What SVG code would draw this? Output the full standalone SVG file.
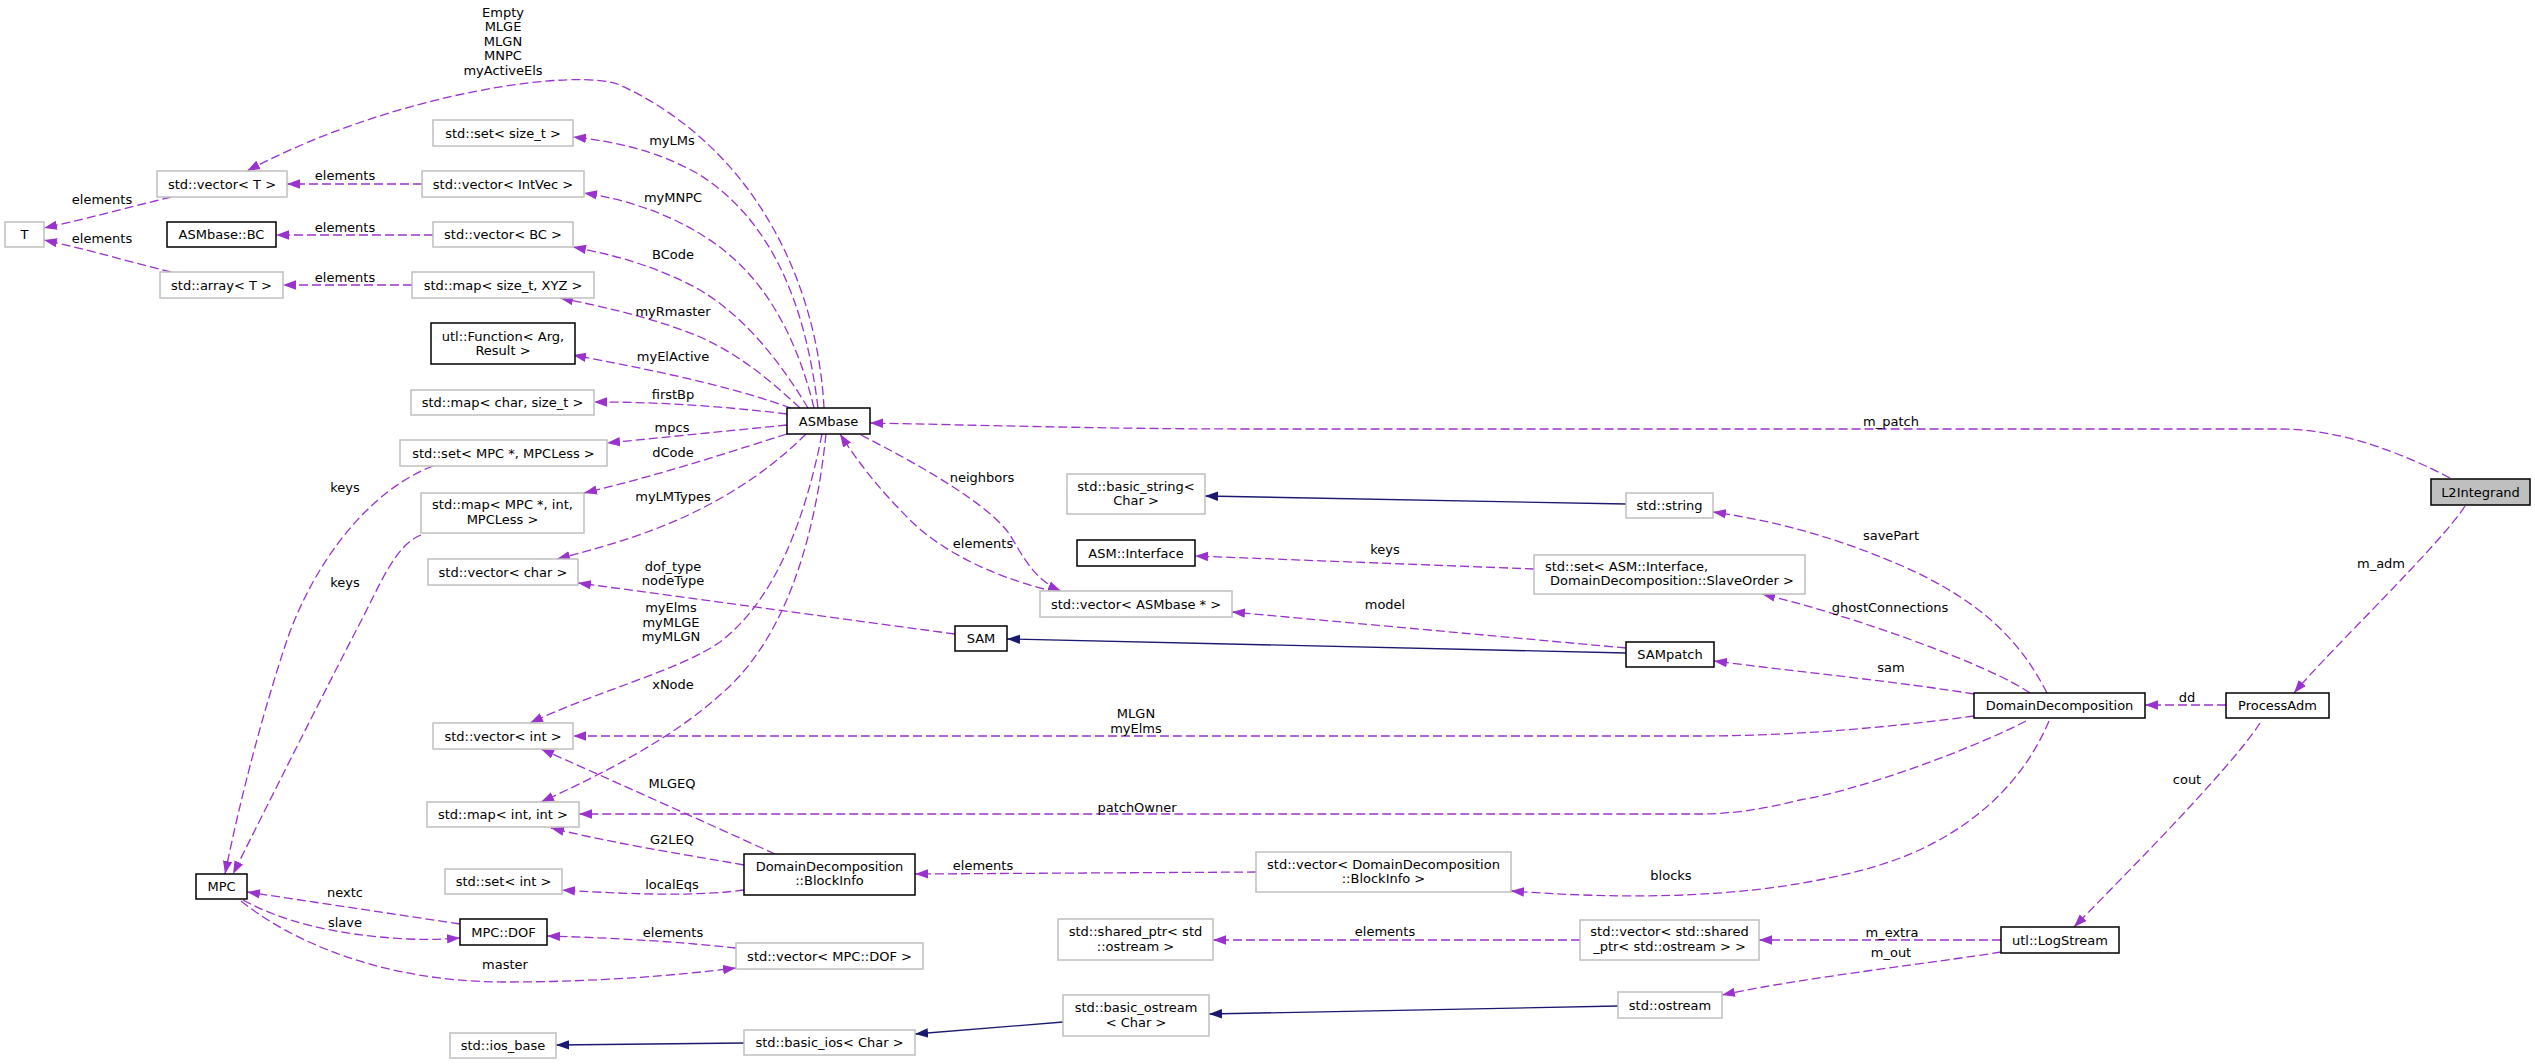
<svg xmlns="http://www.w3.org/2000/svg" width="2535" height="1064" viewBox="0 0 2535 1064">
<style>
text{font-family:"DejaVu Sans","Liberation Sans",sans-serif;font-size:13px;fill:#000}
.n rect{fill:#fff;stroke:#bfbfbf;stroke-width:1.5}
.n.d rect{stroke:#000}
.n.f rect{fill:#bfbfbf;stroke:#000}
.n text{text-anchor:middle}
.c path{fill:none;stroke:#9a32cd;stroke-width:1.3;stroke-dasharray:9,4;marker-end:url(#ap)}
.c path.i{stroke:#191970;stroke-dasharray:none;marker-end:url(#ab)}
.c text{text-anchor:middle}
</style>
<defs>
<marker id="ap" markerWidth="14" markerHeight="10" refX="13" refY="5" orient="auto" markerUnits="userSpaceOnUse"><path d="M0,0.3 L13,5 L0,9.7 Z" fill="#9a32cd"/></marker>
<marker id="ab" markerWidth="14" markerHeight="10" refX="13" refY="5" orient="auto" markerUnits="userSpaceOnUse"><path d="M0,0.3 L13,5 L0,9.7 Z" fill="#191970"/></marker>
</defs>
<rect x="0" y="0" width="2535" height="1064" fill="#fff"/>
<g id="connectors" class="c">
<path d="M2450,478 C2400,452 2340,429 2280,429 L1250,429 C1100,429 980,425 870,423"/>
<text x="1891" y="425.5">m_patch</text>
<path d="M2465,506 C2440,545 2330,650 2294,693"/>
<text x="2381" y="567.5">m_adm</text>
<path d="M2226,705 L2145,705"/>
<text x="2187" y="701.5">dd</text>
<path d="M2260,723 C2230,770 2110,890 2074,927"/>
<text x="2187" y="783.5">cout</text>
<path d="M2001,940 L1759,940"/>
<text x="1892" y="936.5">m_extra</text>
<path d="M2001,952 C1940,962 1800,978 1722,995"/>
<text x="1891" y="956.5">m_out</text>
<path d="M1580,940 L1213,940"/>
<text x="1385" y="935.5">elements</text>
<path class="i" d="M1618,1006 L1209,1014"/>
<path class="i" d="M1063,1022 L915,1034"/>
<path class="i" d="M744,1043 L556,1045"/>
<path d="M2047,693 C2020,640 1980,600 1900,565 C1830,535 1770,520 1713,512"/>
<text x="1891" y="539.5">savePart</text>
<path d="M2030,693 C1990,665 1850,615 1762,594"/>
<text x="1890" y="611.5">ghostConnections</text>
<path d="M1974,694 C1900,682 1800,672 1714,661"/>
<text x="1891" y="671.5">sam</text>
<path d="M1974,716 C1900,726 1800,736 1700,736 L573,736"/>
<text x="1136" y="717.5">MLGN</text>
<text x="1136" y="732.5">myElms</text>
<path d="M2026,721 C1970,750 1860,790 1800,800 C1760,810 1730,814 1700,814 L579,814"/>
<text x="1137" y="811.5">patchOwner</text>
<path d="M2049,721 C2020,790 1960,840 1880,865 C1780,895 1660,902 1511,891"/>
<text x="1671" y="879.5">blocks</text>
<path class="i" d="M1626,653 L1007,639"/>
<path d="M1626,648 L1232,612"/>
<text x="1385" y="608.5">model</text>
<path class="i" d="M1626,504 L1205,496"/>
<path d="M1534,569 L1195,556"/>
<text x="1385" y="553.5">keys</text>
<path d="M1044,589 C990,575 940,550 910,520 C880,490 860,465 840,434"/>
<text x="983" y="547.5">elements</text>
<path d="M861,435 C920,465 990,505 1010,535 C1025,560 1035,580 1061,591"/>
<text x="982" y="481.5">neighbors</text>
<path d="M955,634 L578,583"/>
<text x="673" y="570.5">dof_type</text>
<text x="673" y="584.5">nodeType</text>
<path d="M824,408 C818,290 760,150 620,85 C580,68 400,90 247,171"/>
<text x="503" y="16.5">Empty</text>
<text x="503" y="30.5">MLGE</text>
<text x="503" y="45.5">MLGN</text>
<text x="503" y="59.5">MNPC</text>
<text x="503" y="74.5">myActiveEls</text>
<path d="M818,408 C805,300 770,220 700,175 C660,152 620,142 573,137"/>
<text x="672" y="144.5">myLMs</text>
<path d="M814,408 C795,330 760,270 702,235 C670,215 630,200 584,193"/>
<text x="673" y="201.5">myMNPC</text>
<path d="M808,408 C785,370 750,320 700,290 C660,268 620,256 573,247"/>
<text x="673" y="258.5">BCode</text>
<path d="M800,408 C770,380 740,355 700,337 C660,320 610,308 560,298"/>
<text x="673" y="315.5">myRmaster</text>
<path d="M791,408 C740,390 680,375 573,355"/>
<text x="673" y="360.5">myElActive</text>
<path d="M787,414 C720,406 660,402 594,402"/>
<text x="673" y="398.5">firstBp</text>
<path d="M787,425 L607,443"/>
<text x="672" y="431.5">mpcs</text>
<path d="M787,434 C720,455 660,475 584,493"/>
<text x="673" y="456.5">dCode</text>
<path d="M806,434 C760,480 700,515 630,538 C600,548 580,553 557,559"/>
<text x="673" y="500.5">myLMTypes</text>
<path d="M822,434 C805,520 775,600 720,642 C680,670 600,690 530,723"/>
<text x="671" y="611.5">myElms</text>
<text x="671" y="626.5">myMLGE</text>
<text x="671" y="640.5">myMLGN</text>
<path d="M826,434 C815,540 785,640 720,695 C670,740 600,775 541,802"/>
<text x="673" y="688.5">xNode</text>
<path d="M433,466 C370,490 315,560 287,640 C262,715 240,800 225,874"/>
<text x="345" y="491.5">keys</text>
<path d="M421,535 C395,545 380,585 360,623 C315,710 270,800 233,874"/>
<text x="345" y="586.5">keys</text>
<path d="M171,197 C130,207 90,218 44,228"/>
<text x="102" y="203.5">elements</text>
<path d="M171,272 C130,262 90,250 44,240"/>
<text x="102" y="242.5">elements</text>
<path d="M422,184 L287,184"/>
<text x="345" y="179.5">elements</text>
<path d="M433,235 L276,235"/>
<text x="345" y="231.5">elements</text>
<path d="M412,285 L283,285"/>
<text x="345" y="281.5">elements</text>
<path d="M1256,872 L915,874"/>
<text x="983" y="869.5">elements</text>
<path d="M775,854 C700,820 600,775 541,749"/>
<text x="672" y="787.5">MLGEQ</text>
<path d="M744,865 C700,857 620,845 551,828"/>
<text x="672" y="843.5">G2LEQ</text>
<path d="M744,890 C700,896 640,895 562,890"/>
<text x="672" y="888.5">localEqs</text>
<path d="M460,924 L247,892"/>
<text x="345" y="896.5">nextc</text>
<path d="M243,900 C280,920 330,935 408,939 C430,940 445,939 460,938"/>
<text x="345" y="926.5">slave</text>
<path d="M241,901 C290,940 380,982 505,982 C600,982 680,975 736,968"/>
<text x="505" y="968.5">master</text>
<path d="M736,948 C680,942 620,938 547,936"/>
<text x="673" y="936.5">elements</text>
</g>
<g id="L2Integrand" class="n f"><rect x="2431" y="479" width="99" height="26"/><text x="2480.5" y="496.5">L2Integrand</text></g>
<g id="ASMbase" class="n d"><rect x="787" y="408" width="83" height="26"/><text x="828.5" y="425.5">ASMbase</text></g>
<g id="vectorT" class="n"><rect x="157" y="171" width="130" height="26"/><text x="222" y="188.5">std::vector&lt; T &gt;</text></g>
<g id="T" class="n"><rect x="5" y="222" width="39" height="25"/><text x="24.5" y="239">T</text></g>
<g id="arrayT" class="n"><rect x="160" y="272" width="123" height="26"/><text x="221.5" y="289.5">std::array&lt; T &gt;</text></g>
<g id="setSizeT" class="n"><rect x="433" y="120" width="140" height="26"/><text x="503" y="137.5">std::set&lt; size_t &gt;</text></g>
<g id="vectorIntVec" class="n"><rect x="422" y="171" width="162" height="26"/><text x="503" y="188.5">std::vector&lt; IntVec &gt;</text></g>
<g id="ASMbaseBC" class="n d"><rect x="167" y="222" width="109" height="25"/><text x="221.5" y="239">ASMbase::BC</text></g>
<g id="vectorBC" class="n"><rect x="433" y="222" width="140" height="25"/><text x="503" y="239">std::vector&lt; BC &gt;</text></g>
<g id="mapSizeXYZ" class="n"><rect x="412" y="272" width="182" height="26"/><text x="503" y="289.5">std::map&lt; size_t, XYZ &gt;</text></g>
<g id="utlFunction" class="n d"><rect x="431" y="323" width="144" height="41"/><text x="503" y="340.7">utl::Function&lt; Arg,</text><text x="503" y="355.3">Result &gt;</text></g>
<g id="mapCharSize" class="n"><rect x="411" y="390" width="183" height="25"/><text x="502.5" y="407">std::map&lt; char, size_t &gt;</text></g>
<g id="setMPC" class="n"><rect x="400" y="440" width="207" height="26"/><text x="503.5" y="457.5">std::set&lt; MPC *, MPCLess &gt;</text></g>
<g id="mapMPC" class="n"><rect x="421" y="493" width="163" height="40"/><text x="502.5" y="508.8">std::map&lt; MPC *, int,</text><text x="502.5" y="523.8">MPCLess &gt;</text></g>
<g id="vectorChar" class="n"><rect x="428" y="559" width="150" height="26"/><text x="503" y="576.5">std::vector&lt; char &gt;</text></g>
<g id="vectorInt" class="n"><rect x="433" y="723" width="140" height="26"/><text x="503" y="740.5">std::vector&lt; int &gt;</text></g>
<g id="mapIntInt" class="n"><rect x="427" y="802" width="152" height="25"/><text x="503" y="819">std::map&lt; int, int &gt;</text></g>
<g id="setInt" class="n"><rect x="445" y="869" width="117" height="25"/><text x="503.5" y="886">std::set&lt; int &gt;</text></g>
<g id="MPC" class="n d"><rect x="196" y="874" width="51" height="25"/><text x="221.5" y="891">MPC</text></g>
<g id="MPCDOF" class="n d"><rect x="460" y="919" width="87" height="26"/><text x="503.5" y="936.5">MPC::DOF</text></g>
<g id="vectorMPCDOF" class="n"><rect x="736" y="943" width="187" height="26"/><text x="829.5" y="960.5">std::vector&lt; MPC::DOF &gt;</text></g>
<g id="BlockInfo" class="n d"><rect x="744" y="854" width="171" height="41"/><text x="829.5" y="871.2">DomainDecomposition</text><text x="829.5" y="884.8">::BlockInfo</text></g>
<g id="iosBase" class="n"><rect x="450" y="1033" width="106" height="25"/><text x="503" y="1050">std::ios_base</text></g>
<g id="basicIos" class="n"><rect x="744" y="1030" width="171" height="25"/><text x="829.5" y="1047">std::basic_ios&lt; Char &gt;</text></g>
<g id="basicOstream" class="n"><rect x="1063" y="995" width="146" height="41"/><text x="1136" y="1011.8">std::basic_ostream</text><text x="1136" y="1026.5">&lt; Char &gt;</text></g>
<g id="sharedPtr" class="n"><rect x="1058" y="919" width="155" height="41"/><text x="1135.5" y="935.5">std::shared_ptr&lt; std</text><text x="1135.5" y="950.8">::ostream &gt;</text></g>
<g id="vectorSharedPtr" class="n"><rect x="1580" y="920" width="179" height="40"/><text x="1669.5" y="935.5">std::vector&lt; std::shared</text><text x="1669.5" y="951.2">_ptr&lt; std::ostream &gt; &gt;</text></g>
<g id="ostream" class="n"><rect x="1618" y="992" width="104" height="26"/><text x="1670" y="1009.5">std::ostream</text></g>
<g id="LogStream" class="n d"><rect x="2001" y="927" width="118" height="26"/><text x="2060" y="944.5">utl::LogStream</text></g>
<g id="ProcessAdm" class="n d"><rect x="2226" y="693" width="103" height="25"/><text x="2277.5" y="710">ProcessAdm</text></g>
<g id="DomainDecomposition" class="n d"><rect x="1974" y="693" width="171" height="25"/><text x="2059.5" y="710">DomainDecomposition</text></g>
<g id="vectorBlockInfo" class="n"><rect x="1256" y="852" width="255" height="40"/><text x="1383.5" y="868.5">std::vector&lt; DomainDecomposition</text><text x="1383.5" y="882.8">::BlockInfo &gt;</text></g>
<g id="SAMpatch" class="n d"><rect x="1626" y="642" width="88" height="25"/><text x="1670" y="659">SAMpatch</text></g>
<g id="SAM" class="n d"><rect x="955" y="626" width="52" height="25"/><text x="981" y="643">SAM</text></g>
<g id="vectorASMbase" class="n"><rect x="1040" y="591" width="192" height="26"/><text x="1136" y="608.5">std::vector&lt; ASMbase * &gt;</text></g>
<g id="setInterface" class="n"><rect x="1534" y="555" width="271" height="39"/><text x="1545" y="571.2" style="text-anchor:start">std::set&lt; ASM::Interface,</text><text x="1672" y="584.8">DomainDecomposition::SlaveOrder &gt;</text></g>
<g id="ASMInterface" class="n d"><rect x="1077" y="540" width="118" height="26"/><text x="1136" y="557.5">ASM::Interface</text></g>
<g id="stdString" class="n"><rect x="1626" y="493" width="87" height="25"/><text x="1669.5" y="510">std::string</text></g>
<g id="basicString" class="n"><rect x="1067" y="474" width="138" height="40"/><text x="1136" y="491.2">std::basic_string&lt;</text><text x="1136" y="504.8">Char &gt;</text></g>
</svg>
